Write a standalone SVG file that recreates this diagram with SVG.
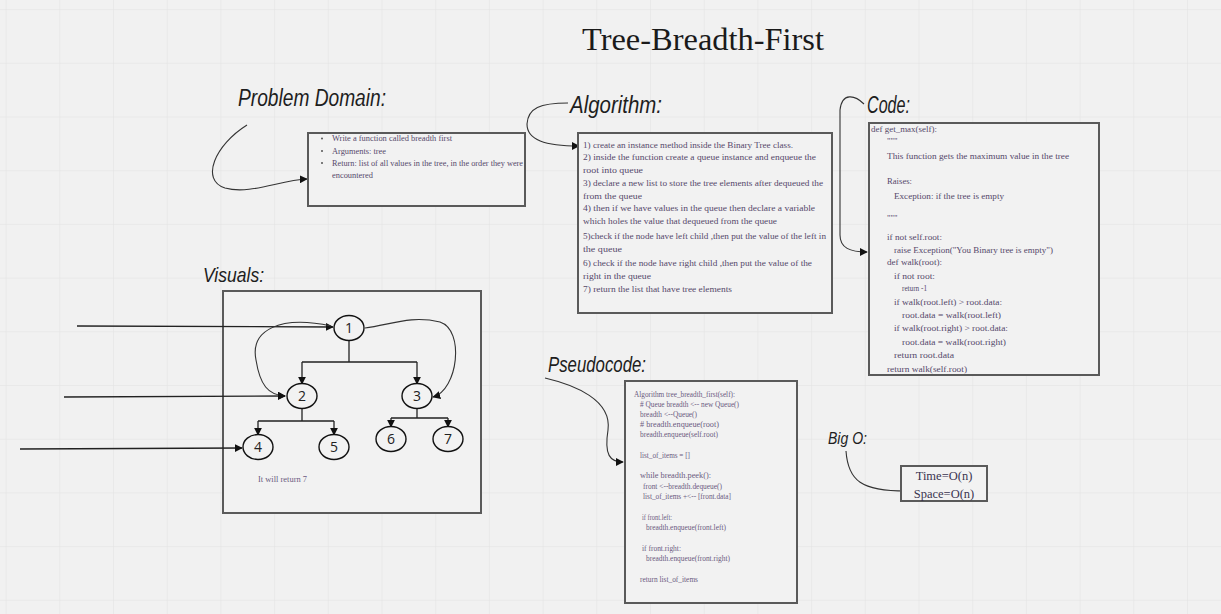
<svg xmlns="http://www.w3.org/2000/svg" width="1221" height="614" viewBox="0 0 1221 614">
<style>
.hd{font-family:"Liberation Sans","DejaVu Sans",sans-serif;font-style:italic;fill:#1e1e1e}
.tx{font-family:"Liberation Serif","DejaVu Serif",serif;font-size:9px;fill:#55486a}
.cd{font-family:"Liberation Serif","DejaVu Serif",serif;font-size:8.6px;fill:#55486a}
.ps{font-family:"Liberation Serif","DejaVu Serif",serif;font-size:7.4px;fill:#6a5a80}
.box{fill:#f2f2f2;stroke:#5a5a5a;stroke-width:2}
.nd{fill:#f2f2f2;stroke:#111;stroke-width:1.4}
.nl{font-family:"Open Sans","DejaVu Sans",sans-serif;font-size:14px;fill:#222;text-anchor:middle}
.cn{fill:none;stroke:#333;stroke-width:1.1}
.ed{fill:none;stroke:#222;stroke-width:1.3}
</style>
<defs>
<pattern id="grid" width="53.7" height="53.7" x="5.6" y="9.1" patternUnits="userSpaceOnUse">
<path d="M0,0 H53.7 M0,0 V53.7" fill="none" stroke="#e2e2e2" stroke-width="1"/>
</pattern>
<marker id="ar" viewBox="0 0 10 10" refX="9" refY="5" markerWidth="8" markerHeight="8" markerUnits="userSpaceOnUse" orient="auto">
<path d="M0,0 L10,5 L0,10 z" fill="#111"/>
</marker>
</defs>
<rect width="1221" height="614" fill="#f1f1f1"/>
<rect width="1221" height="614" fill="url(#grid)"/>

<text x="582" y="50" font-family="Liberation Serif,serif" font-size="31" fill="#1a1a1a" textLength="242" lengthAdjust="spacingAndGlyphs">Tree-Breadth-First</text>

<g id="headers">
<text class="hd" x="238" y="106" font-size="23" textLength="148" lengthAdjust="spacingAndGlyphs">Problem Domain:</text>
<text class="hd" x="570" y="113" font-size="23" textLength="92" lengthAdjust="spacingAndGlyphs">Algorithm:</text>
<text class="hd" x="867" y="113" font-size="23" textLength="43" lengthAdjust="spacingAndGlyphs">Code:</text>
<text class="hd" x="548" y="372" font-size="22" textLength="98" lengthAdjust="spacingAndGlyphs">Pseudocode:</text>
<text class="hd" x="203" y="282" font-size="21" textLength="61" lengthAdjust="spacingAndGlyphs">Visuals:</text>
<text class="hd" x="828" y="444" font-size="17" textLength="39" lengthAdjust="spacingAndGlyphs">Big O:</text>
</g>

<g id="visuals">
<rect class="box" x="223" y="291" width="258" height="222"/>
<text class="ps" x="258" y="482" font-size="8" textLength="49" lengthAdjust="spacingAndGlyphs">It will return 7</text>
</g>

<g id="connectors">
<path class="cn" d="M247,125 C215,145 200,180 225,188 C250,195 280,180 307,179" marker-end="url(#ar)"/>
<path class="cn" d="M568,103 C540,103 528,108 527,124 C527,140 545,146 579,146" marker-end="url(#ar)"/>
<path class="cn" d="M864,104 C855,95 842,92 840,110 L840,235 C840,248 850,252 867,252" marker-end="url(#ar)"/>
<path class="cn" d="M545,378 C575,385 612,400 608,430 C604,455 610,462 623,462" marker-end="url(#ar)"/>
<path class="cn" d="M846,451 C848,480 860,492 911,491" marker-end="url(#ar)"/>
<path class="ed" d="M77,326 L333,327" marker-end="url(#ar)"/>
<path class="ed" d="M64,397 L285,396" marker-end="url(#ar)"/>
<path class="ed" d="M20,449 L242,448" marker-end="url(#ar)"/>
<path class="cn" d="M331,326 C280,315 250,330 256,360 C260,385 268,395 285,396" marker-end="url(#ar)"/>
<path class="cn" d="M365,328 C390,325 410,315 440,322 C465,330 458,390 433,397" marker-end="url(#ar)"/>
<path class="ed" d="M349,341 V362 M302,362 H417"/>
<path class="ed" d="M302,362 V384" marker-end="url(#ar)"/>
<path class="ed" d="M417,362 V384" marker-end="url(#ar)"/>
<path class="ed" d="M302,409 V421 M258,421 H334"/>
<path class="ed" d="M258,421 V435" marker-end="url(#ar)"/>
<path class="ed" d="M334,421 V435" marker-end="url(#ar)"/>
<path class="ed" d="M417,409 V418 M391,418 H448"/>
<path class="ed" d="M391,418 V427" marker-end="url(#ar)"/>
<path class="ed" d="M448,418 V427" marker-end="url(#ar)"/>
</g>

<g id="problem">
<rect class="box" x="308" y="133" width="217" height="73"/>
<circle cx="322" cy="138.5" r="1" fill="#555"/>
<circle cx="322" cy="151" r="1" fill="#555"/>
<circle cx="322" cy="163" r="1" fill="#555"/>
<text class="tx" x="332" y="141" textLength="120" lengthAdjust="spacingAndGlyphs">Write a function called breadth first</text>
<text class="tx" x="332" y="154" textLength="54" lengthAdjust="spacingAndGlyphs">Arguments: tree</text>
<text class="tx" x="332" y="166" textLength="191" lengthAdjust="spacingAndGlyphs">Return: list of all values in the tree, in the order they were</text>
<text class="tx" x="332" y="178" textLength="41" lengthAdjust="spacingAndGlyphs">encountered</text>
</g>

<g id="algorithm">
<rect class="box" x="578" y="133" width="254" height="180"/>
<text class="tx" x="583" y="148" textLength="210" lengthAdjust="spacingAndGlyphs">1) create an instance method inside  the Binary Tree class.</text>
<text class="tx" x="583" y="160" textLength="233" lengthAdjust="spacingAndGlyphs">2) inside the function create a queue  instance and enqueue the</text>
<text class="tx" x="583" y="173" textLength="60" lengthAdjust="spacingAndGlyphs">root into queue</text>
<text class="tx" x="583" y="186" textLength="240" lengthAdjust="spacingAndGlyphs">3) declare a new list to store the tree  elements after dequeued the</text>
<text class="tx" x="583" y="199" textLength="59" lengthAdjust="spacingAndGlyphs">from the queue</text>
<text class="tx" x="583" y="211" textLength="232" lengthAdjust="spacingAndGlyphs">4) then if we have values in the queue then  declare a variable</text>
<text class="tx" x="583" y="224" textLength="194" lengthAdjust="spacingAndGlyphs">which holes the value that dequeued from the queue</text>
<text class="tx" x="583" y="239" textLength="243" lengthAdjust="spacingAndGlyphs">5)check if the node have left child ,then put the value of the left in</text>
<text class="tx" x="583" y="252" textLength="39" lengthAdjust="spacingAndGlyphs">the queue</text>
<text class="tx" x="583" y="266" textLength="229" lengthAdjust="spacingAndGlyphs">6) check if the node have right child ,then put the value of the</text>
<text class="tx" x="583" y="279" textLength="68" lengthAdjust="spacingAndGlyphs">right in the queue</text>
<text class="tx" x="583" y="292" textLength="149" lengthAdjust="spacingAndGlyphs">7) return the list that have tree elements</text>
</g>

<g id="code">
<rect class="box" x="869" y="123" width="230" height="252"/>
<text class="cd" x="871" y="132" textLength="66" lengthAdjust="spacingAndGlyphs">def get_max(self):</text>
<text class="cd" x="887" y="144">"""</text>
<text class="cd" x="887" y="159" textLength="182" lengthAdjust="spacingAndGlyphs">This function gets the maximum value in the tree</text>
<text class="cd" x="887" y="184" textLength="25" lengthAdjust="spacingAndGlyphs">Raises:</text>
<text class="cd" x="894" y="199" textLength="110" lengthAdjust="spacingAndGlyphs">Exception: if the tree is empty</text>
<text class="cd" x="887" y="221">"""</text>
<text class="cd" x="887" y="240" textLength="55" lengthAdjust="spacingAndGlyphs">if not self.root:</text>
<text class="cd" x="894" y="253" textLength="159" lengthAdjust="spacingAndGlyphs">raise Exception("You Binary tree is empty")</text>
<text class="cd" x="887" y="265" textLength="55" lengthAdjust="spacingAndGlyphs">def walk(root):</text>
<text class="cd" x="894" y="279" textLength="41" lengthAdjust="spacingAndGlyphs">if not root:</text>
<text class="cd" x="902" y="291" textLength="25" lengthAdjust="spacingAndGlyphs">return -1</text>
<text class="cd" x="894" y="305" textLength="108" lengthAdjust="spacingAndGlyphs">if walk(root.left) &gt; root.data:</text>
<text class="cd" x="902" y="318" textLength="99" lengthAdjust="spacingAndGlyphs">root.data = walk(root.left)</text>
<text class="cd" x="894" y="331" textLength="114" lengthAdjust="spacingAndGlyphs">if walk(root.right) &gt; root.data:</text>
<text class="cd" x="902" y="345" textLength="104" lengthAdjust="spacingAndGlyphs">root.data = walk(root.right)</text>
<text class="cd" x="894" y="358" textLength="60" lengthAdjust="spacingAndGlyphs">return root.data</text>
<text class="cd" x="887" y="372" textLength="80" lengthAdjust="spacingAndGlyphs">return walk(self.root)</text>
</g>

<g id="pseudocode">
<rect class="box" x="625" y="381" width="172" height="222"/>
<text class="ps" x="634" y="397" textLength="101" lengthAdjust="spacingAndGlyphs">Algorithm tree_breadth_first(self):</text>
<text class="ps" x="640" y="407" textLength="99" lengthAdjust="spacingAndGlyphs"># Queue breadth &lt;-- new Queue()</text>
<text class="ps" x="640" y="417" textLength="57" lengthAdjust="spacingAndGlyphs">breadth &lt;--Queue()</text>
<text class="ps" x="640" y="427" textLength="79" lengthAdjust="spacingAndGlyphs"># breadth.enqueue(root)</text>
<text class="ps" x="640" y="437" textLength="78" lengthAdjust="spacingAndGlyphs">breadth.enqueue(self.root)</text>
<text class="ps" x="640" y="458" textLength="50" lengthAdjust="spacingAndGlyphs">list_of_items = []</text>
<text class="ps" x="640" y="478" textLength="71" lengthAdjust="spacingAndGlyphs">while breadth.peek():</text>
<text class="ps" x="643" y="489" textLength="79" lengthAdjust="spacingAndGlyphs">front &lt;--breadth.dequeue()</text>
<text class="ps" x="643" y="499" textLength="88" lengthAdjust="spacingAndGlyphs">list_of_items +&lt;-- [front.data]</text>
<text class="ps" x="642" y="520" textLength="30" lengthAdjust="spacingAndGlyphs">if front.left:</text>
<text class="ps" x="646" y="530" textLength="80" lengthAdjust="spacingAndGlyphs">breadth.enqueue(front.left)</text>
<text class="ps" x="642" y="551" textLength="39" lengthAdjust="spacingAndGlyphs">if front.right:</text>
<text class="ps" x="646" y="561" textLength="84" lengthAdjust="spacingAndGlyphs">breadth.enqueue(front.right)</text>
<text class="ps" x="640" y="582" textLength="58" lengthAdjust="spacingAndGlyphs">return list_of_items</text>
</g>

<g id="bigo">
<rect class="box" x="901" y="466" width="86" height="35"/>
<text x="944" y="480" font-family="Liberation Serif,serif" font-size="12.5" fill="#3a3450" text-anchor="middle">Time=O(n)</text>
<text x="944" y="498" font-family="Liberation Serif,serif" font-size="12.5" fill="#3a3450" text-anchor="middle">Space=O(n)</text>
</g>

<g id="node1"><ellipse class="nd" cx="349" cy="328" rx="15" ry="12.5"/><text class="nl" x="349" y="333">1</text></g>
<g id="node2"><ellipse class="nd" cx="302" cy="396" rx="15" ry="12.5"/><text class="nl" x="302" y="401">2</text></g>
<g id="node3"><ellipse class="nd" cx="417" cy="396" rx="15" ry="12.5"/><text class="nl" x="417" y="401">3</text></g>
<g id="node4"><ellipse class="nd" cx="258" cy="447" rx="15" ry="12.5"/><text class="nl" x="258" y="452">4</text></g>
<g id="node5"><ellipse class="nd" cx="334" cy="447" rx="15" ry="12.5"/><text class="nl" x="334" y="452">5</text></g>
<g id="node6"><ellipse class="nd" cx="391" cy="439" rx="15" ry="12.5"/><text class="nl" x="391" y="444">6</text></g>
<g id="node7"><ellipse class="nd" cx="448" cy="439" rx="15" ry="12.5"/><text class="nl" x="448" y="444">7</text></g>
</svg>
